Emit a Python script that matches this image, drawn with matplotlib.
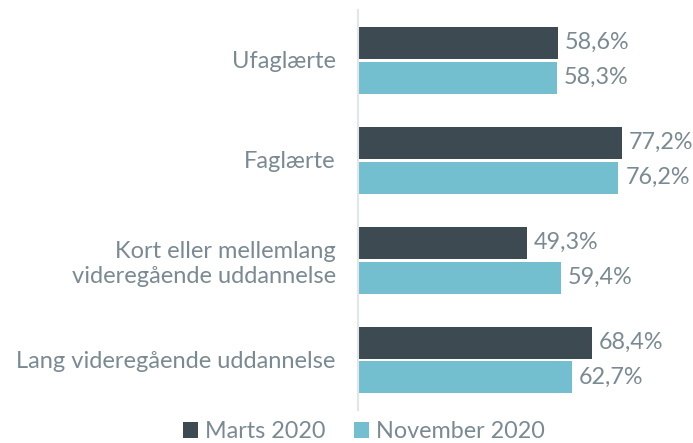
import matplotlib.pyplot as plt
import numpy as np

# Data
categories = ["Ufaglærte", "Faglærte", "Kort eller mellemlang\nvideregående uddannelse",
              "Lang videregående uddannelse"]
marts = [58.6, 77.2, 49.3, 68.4]
november = [58.3, 76.2, 59.4, 62.7]

dark = "#3d4a52"
light = "#74bfcf"
txt = "#7a8a92"

plt.rcParams["font.family"] = ["Lato", "DejaVu Sans"]

fig = plt.figure(figsize=(6.93, 4.43), dpi=100)
ax = fig.add_axes([358 / 693, 33 / 443, 335 / 693, 400 / 443])

y = np.arange(len(categories))
h = 0.32
b1 = ax.barh(y - 0.175, marts, height=h, color=dark, label="Marts 2020")
b2 = ax.barh(y + 0.175, november, height=h, color=light, label="November 2020")

for bars, vals in [(b1, marts), (b2, november)]:
    for bar, v in zip(bars, vals):
        ax.text(bar.get_width() + 2.0, bar.get_y() + bar.get_height() / 2,
                f"{v:.1f}%".replace(".", ","), va="center", ha="left",
                fontsize=16.8, color=txt)

ax.set_xlim(0, 98)
ax.set_ylim(3.5, -0.5)
ax.set_yticks(y)
ax.set_yticklabels(categories, fontsize=17, color=txt, ha="right",
                   linespacing=1.25)
ax.tick_params(axis="y", length=0, pad=16)
ax.set_xticks([])
for s in ["top", "right", "bottom"]:
    ax.spines[s].set_visible(False)
ax.spines["left"].set_color("#e3e6e8")
ax.spines["left"].set_linewidth(1.5)

fig.legend(handles=[b1, b2], loc="lower center", bbox_to_anchor=(0.525, -0.045),
           ncol=2, frameon=False, fontsize=16.8, labelcolor=txt,
           handlelength=0.65, handleheight=0.65, handletextpad=0.3,
           columnspacing=1.2)

fig.savefig("out.png", dpi=100)
